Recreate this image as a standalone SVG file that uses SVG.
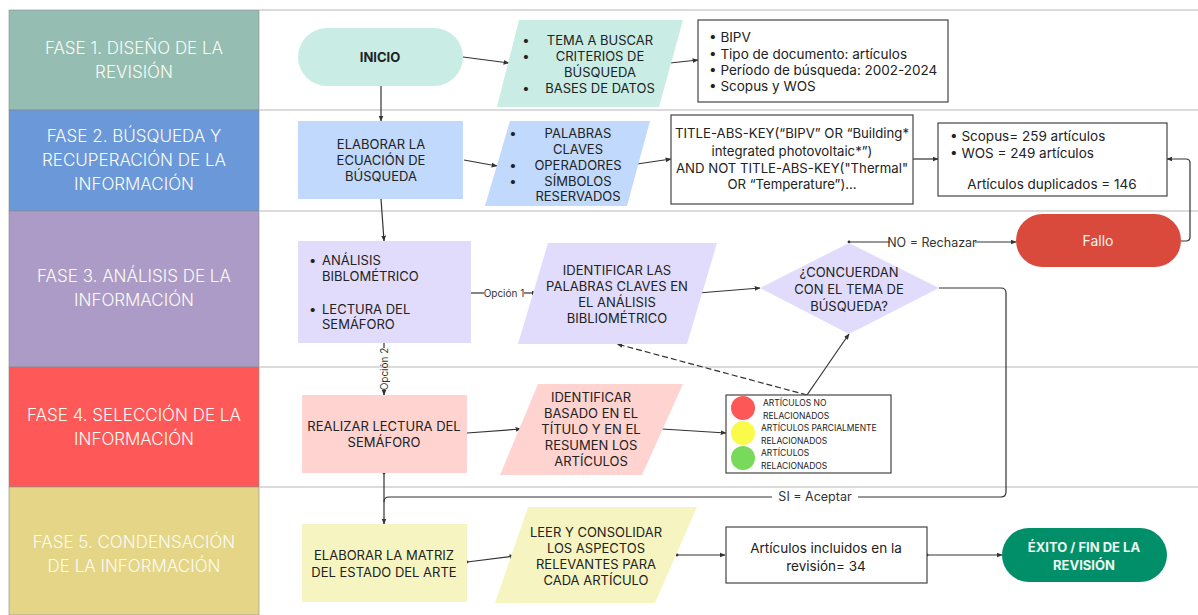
<svg xmlns="http://www.w3.org/2000/svg" width="1198" height="615" viewBox="0 0 1198 615">
<defs>
<style>
.lane{stroke:#8a8a8a;stroke-width:0.6}
.lt{font-family:Inter,"Liberation Sans",sans-serif;font-size:17px;font-weight:300;fill:#fbfbf4;text-anchor:middle}
.t{font-family:Inter,"Liberation Sans",sans-serif;font-size:13px;fill:#222;text-anchor:middle}
.tb{font-family:Inter,"Liberation Sans",sans-serif;font-size:13.5px;fill:#222;text-anchor:middle}
.tt{font-family:Inter,"Liberation Sans",sans-serif;font-size:13.2px;fill:#222;text-anchor:middle}
.ts{font-family:Inter,"Liberation Sans",sans-serif;font-size:13px;fill:#222;text-anchor:start}
.tl{font-family:Inter,"Liberation Sans",sans-serif;font-size:13.5px;fill:#222}
.tw{font-family:Inter,"Liberation Sans",sans-serif;font-size:14px;fill:#fdf0ee;text-anchor:middle}
.tg{font-family:Inter,"Liberation Sans",sans-serif;font-size:13px;font-weight:bold;fill:#eaf6ef;text-anchor:middle}
.sm{font-family:Inter,"Liberation Sans",sans-serif;font-size:8.5px;fill:#222}
.lb{font-family:Inter,"Liberation Sans",sans-serif;font-size:10px;fill:#333;text-anchor:middle}
.lb2{font-family:Inter,"Liberation Sans",sans-serif;font-size:12.5px;fill:#333;text-anchor:middle}
.sep{stroke:#cfcfcf;stroke-width:1.5;fill:none}
.c{stroke:#333;stroke-width:1.2;fill:none}
.box{fill:#fff;stroke:#444;stroke-width:1.2}
</style>
<marker id="ah" viewBox="0 0 10 10" refX="9" refY="5" markerWidth="5" markerHeight="5" orient="auto-start-reverse">
<path d="M0,1 L10,5 L0,9 z" fill="#333"/>
</marker>
<marker id="dot" viewBox="0 0 10 10" refX="5" refY="5" markerWidth="3" markerHeight="3">
<circle cx="5" cy="5" r="4" fill="#333"/>
</marker>
</defs>
<rect width="1198" height="615" fill="#fff"/>

<g id="lanes">
<rect class="lane" x="9" y="10" width="250" height="100" fill="#95bdb2"/>
<rect class="lane" x="9" y="110" width="250" height="101" fill="#6b98d9"/>
<rect class="lane" x="9" y="211" width="250" height="156" fill="#ac9bc6"/>
<rect class="lane" x="9" y="367" width="250" height="120" fill="#fe5858"/>
<rect class="lane" x="9" y="487" width="250" height="128" fill="#e5d587"/>
<line class="sep" x1="259" y1="10" x2="1198" y2="10"/>
<line class="sep" x1="259" y1="110" x2="1198" y2="110"/>
<line class="sep" x1="259" y1="211" x2="1198" y2="211"/>
<line class="sep" x1="259" y1="367" x2="1198" y2="367"/>
<line class="sep" x1="259" y1="487" x2="1198" y2="487"/>
<text class="lt" x="134" y="54">FASE 1. DISEÑO DE LA</text>
<text class="lt" x="134" y="78">REVISIÓN</text>
<text class="lt" x="134" y="142">FASE 2. BÚSQUEDA Y</text>
<text class="lt" x="134" y="166">RECUPERACIÓN DE LA</text>
<text class="lt" x="134" y="190">INFORMACIÓN</text>
<text class="lt" x="134" y="282">FASE 3. ANÁLISIS DE LA</text>
<text class="lt" x="134" y="306">INFORMACIÓN</text>
<text class="lt" x="134" y="421">FASE 4. SELECCIÓN DE LA</text>
<text class="lt" x="134" y="445">INFORMACIÓN</text>
<text class="lt" x="134" y="548">FASE 5. CONDENSACIÓN</text>
<text class="lt" x="134" y="572">DE LA INFORMACIÓN</text>
</g>

<g id="connectors">
<line class="c" x1="463" y1="57" x2="509" y2="63" marker-end="url(#ah)"/>
<line class="c" x1="670" y1="63" x2="698" y2="60" marker-end="url(#ah)"/>
<line class="c" x1="381" y1="86" x2="381" y2="121" marker-end="url(#ah)"/>
<line class="c" x1="464" y1="160" x2="497" y2="166" marker-end="url(#ah)"/>
<line class="c" x1="637" y1="164" x2="671" y2="159" marker-end="url(#ah)"/>
<line class="c" x1="913" y1="159" x2="938" y2="159" marker-end="url(#ah)"/>
<path class="c" d="M1181,241 L1186,241 Q1190,241 1190,237 L1190,163 Q1190,159 1186,159 L1167,159" marker-end="url(#ah)"/>
<line class="c" x1="381" y1="199" x2="384" y2="241" marker-end="url(#ah)"/>
<line class="c" x1="471" y1="293" x2="484" y2="293"/>
<line class="c" x1="524" y1="293" x2="537" y2="293" marker-end="url(#ah)"/>
<text class="lb" x="504" y="296.5">Opción 1</text>
<line class="c" x1="698" y1="293" x2="760" y2="288" marker-end="url(#ah)"/>
<line class="c" x1="849" y1="242" x2="890" y2="242" marker-start="url(#dot)"/>
<line class="c" x1="975" y1="242" x2="1016" y2="242" marker-end="url(#ah)"/>
<text class="lb2" x="932" y="246.5">NO = Rechazar</text>
<path class="c" d="M939,288 L1001,288 Q1006,288 1006,293 L1006,492 Q1006,497 1001,497 L858,497"/>
<path class="c" d="M772,497 L389,497 Q384,497 384,502"/>
<text class="lb2" x="815" y="501">SI = Aceptar</text>
<line class="c" x1="384" y1="343" x2="384" y2="348"/>
<line class="c" x1="384" y1="390" x2="384" y2="395" marker-end="url(#ah)"/>
<text class="lb" transform="translate(387.5,369) rotate(-90)">Opción 2</text>
<line class="c" x1="384" y1="473" x2="384" y2="524" marker-start="url(#dot)" marker-end="url(#ah)"/>
<line class="c" x1="467" y1="433" x2="521" y2="429" marker-end="url(#ah)"/>
<line class="c" x1="662" y1="429" x2="726" y2="433" marker-end="url(#ah)"/>
<line class="c" x1="807" y1="395" x2="849" y2="334" marker-end="url(#ah)"/>
<line class="c" x1="807" y1="395" x2="617" y2="344" stroke-dasharray="6,3" marker-end="url(#ah)"/>
<line class="c" x1="467" y1="562" x2="515" y2="556" marker-start="url(#dot)" marker-end="url(#ah)"/>
<line class="c" x1="677" y1="555" x2="725" y2="555" marker-start="url(#dot)" marker-end="url(#ah)"/>
<line class="c" x1="927" y1="555" x2="1002" y2="555" marker-start="url(#dot)" marker-end="url(#ah)"/>
</g>

<g id="inicio">
<rect x="298" y="28" width="165" height="58" rx="29" fill="#c9ede4"/>
<text class="t" x="380" y="62" font-weight="bold">INICIO</text>
</g>

<g id="tema">
<polygon points="519,20 683,20 659,107 497,107" fill="#c9ede4"/>
<text class="t" x="526" y="45">•</text><text class="t" x="600" y="45">TEMA A BUSCAR</text>
<text class="t" x="526" y="61">•</text><text class="t" x="600" y="61">CRITERIOS DE</text>
<text class="t" x="600" y="77">BÚSQUEDA</text>
<text class="t" x="526" y="93">•</text><text class="t" x="600" y="93">BASES DE DATOS</text>
</g>

<g id="bipv">
<rect class="box" x="698" y="20" width="250" height="82"/>
<text class="tl" x="709" y="42">• BIPV</text>
<text class="tl" x="709" y="59">• Tipo de documento: artículos</text>
<text class="tl" x="709" y="75">• Período de búsqueda: 2002-2024</text>
<text class="tl" x="709" y="91">• Scopus y WOS</text>
</g>

<g id="ecuacion">
<rect x="298" y="121" width="165" height="78" fill="#c0d9fc"/>
<text class="t" x="381" y="149">ELABORAR LA</text>
<text class="t" x="381" y="165">ECUACIÓN DE</text>
<text class="t" x="381" y="181">BÚSQUEDA</text>
</g>

<g id="palabras">
<polygon points="510,121 650,121 627,206 485,206" fill="#c0d9fc"/>
<text class="t" x="513" y="138">•</text><text class="t" x="578" y="138">PALABRAS</text>
<text class="t" x="578" y="154">CLAVES</text>
<text class="t" x="513" y="170">•</text><text class="t" x="578" y="170">OPERADORES</text>
<text class="t" x="513" y="186">•</text><text class="t" x="578" y="186">SÍMBOLOS</text>
<text class="t" x="578" y="201">RESERVADOS</text>
</g>

<g id="title">
<rect class="box" x="671" y="115" width="242" height="89"/>
<text class="tt" x="792" y="138">TITLE-ABS-KEY(“BIPV” OR “Building*</text>
<text class="tt" x="792" y="156">integrated photovoltaic*”)</text>
<text class="tt" x="792" y="173">AND NOT TITLE-ABS-KEY("Thermal"</text>
<text class="tt" x="792" y="189">OR “Temperature”)...</text>
</g>

<g id="scopus">
<rect class="box" x="938" y="123" width="229" height="73"/>
<text class="tl" x="950" y="141">• Scopus= 259 artículos</text>
<text class="tl" x="950" y="158">• WOS = 249 artículos</text>
<text class="tb" x="1052" y="189">Artículos duplicados = 146</text>
</g>

<g id="fallo">
<rect x="1016" y="214" width="165" height="53" rx="26.5" fill="#d94a3c"/>
<text class="tw" x="1098" y="246">Fallo</text>
</g>

<g id="analisis">
<rect x="298" y="241" width="173" height="102" fill="#e1dcfc"/>
<text class="ts" x="309" y="265">•</text><text class="ts" x="322" y="265">ANÁLISIS</text>
<text class="ts" x="322" y="281">BIBLOMÉTRICO</text>
<text class="ts" x="309" y="314">•</text><text class="ts" x="322" y="314">LECTURA DEL</text>
<text class="ts" x="322" y="329">SEMÁFORO</text>
</g>

<g id="identificar1">
<polygon points="548,243 717,243 687,344 518,344" fill="#e1dcfc"/>
<text class="t" x="617" y="275">IDENTIFICAR LAS</text>
<text class="t" x="617" y="291">PALABRAS CLAVES EN</text>
<text class="t" x="617" y="307">EL ANÁLISIS</text>
<text class="t" x="617" y="323">BIBLIOMÉTRICO</text>
</g>

<g id="decision">
<polygon points="760,288 849,243 939,288 849,334" fill="#e1dcfc"/>
<text class="t" x="849" y="277">¿CONCUERDAN</text>
<text class="t" x="849" y="294">CON EL TEMA DE</text>
<text class="t" x="849" y="311">BÚSQUEDA?</text>
</g>

<g id="realizar">
<rect x="302" y="395" width="165" height="78" fill="#ffd3d0"/>
<text class="t" x="384" y="431">REALIZAR LECTURA DEL</text>
<text class="t" x="384" y="447">SEMÁFORO</text>
</g>

<g id="identificar2">
<polygon points="538,384 683,384 642,475 500,475" fill="#ffd3d0"/>
<text class="t" x="591" y="402">IDENTIFICAR</text>
<text class="t" x="591" y="418">BASADO EN EL</text>
<text class="t" x="591" y="434">TÍTULO Y EN EL</text>
<text class="t" x="591" y="450">RESUMEN LOS</text>
<text class="t" x="591" y="466">ARTÍCULOS</text>
</g>

<g id="semaforo">
<rect class="box" x="726" y="395" width="165" height="78"/>
<circle cx="743" cy="408" r="12" fill="#fe5757"/>
<circle cx="743" cy="433" r="12" fill="#fafa4b"/>
<circle cx="743" cy="458" r="12" fill="#78d95b"/>
<text class="sm" x="763" y="406">ARTÍCULOS  NO</text>
<text class="sm" x="763" y="419">RELACIONADOS</text>
<text class="sm" x="761" y="431">ARTÍCULOS PARCIALMENTE</text>
<text class="sm" x="761" y="444">RELACIONADOS</text>
<text class="sm" x="761" y="456">ARTÍCULOS</text>
<text class="sm" x="761" y="469">RELACIONADOS</text>
</g>

<g id="matriz">
<rect x="302" y="524" width="165" height="78" fill="#f6f5c1"/>
<text class="t" x="384" y="560">ELABORAR LA MATRIZ</text>
<text class="t" x="384" y="577">DEL ESTADO DEL ARTE</text>
</g>

<g id="leer">
<polygon points="528,507 697,507 655,603 495,603" fill="#f6f5c1"/>
<text class="t" x="596" y="537">LEER Y CONSOLIDAR</text>
<text class="t" x="596" y="553">LOS ASPECTOS</text>
<text class="t" x="596" y="569">RELEVANTES PARA</text>
<text class="t" x="596" y="585">CADA ARTÍCULO</text>
</g>

<g id="incluidos">
<rect class="box" x="726" y="527" width="201" height="56"/>
<text class="tb" x="826" y="553">Artículos incluidos en la</text>
<text class="tb" x="826" y="571">revisión= 34</text>
</g>

<g id="exito">
<rect x="1002" y="528" width="165" height="54" rx="27" fill="#008f69"/>
<text class="tg" x="1084" y="552">ÉXITO / FIN DE LA</text>
<text class="tg" x="1084" y="570">REVISIÓN</text>
</g>
</svg>
